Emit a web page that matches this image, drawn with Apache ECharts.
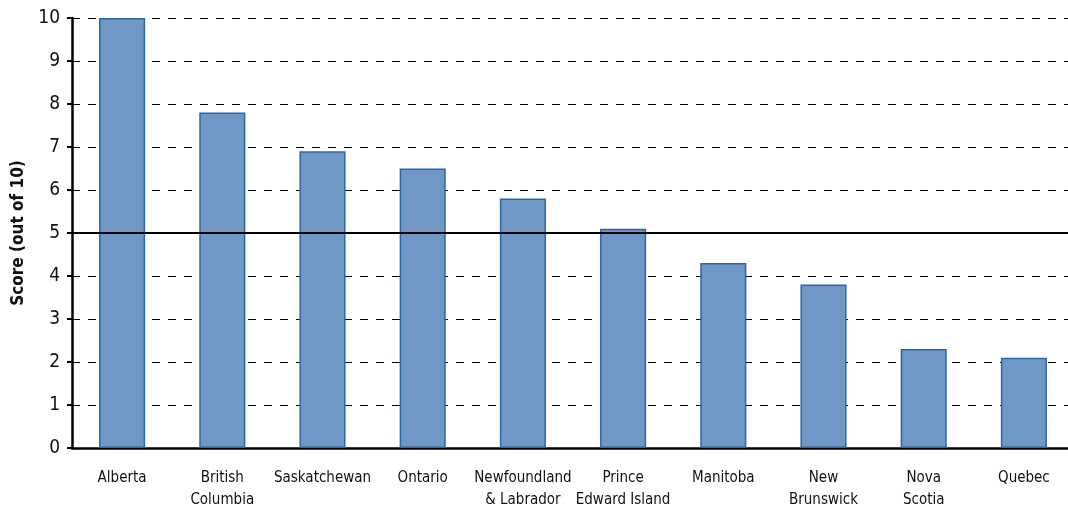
<!DOCTYPE html>
<html>
<head>
<meta charset="utf-8">
<script src="https://cdn.jsdelivr.net/npm/echarts@6/dist/echarts.min.js"></script>
<style>
  html, body { margin: 0; padding: 0; background: #fff; }
  #chart { width: 1068px; height: 508px; }
</style>
</head>
<body>
<div id="chart"></div>
<script>
// Provinces, ranked by score
const provinces = [
  'Alberta', 'British\nColumbia', 'Saskatchewan', 'Ontario', 'Newfoundland\n& Labrador',
  'Prince\nEdward Island', 'Manitoba', 'New\nBrunswick', 'Nova\nScotia', 'Quebec'
];
const scores = [10, 7.8, 6.9, 6.5, 5.8, 5.1, 4.3, 3.8, 2.3, 2.1];
const yTicks = [0, 1, 2, 3, 4, 5, 6, 7, 8, 9, 10];
const midline = 5;

const font = '"DejaVu Sans Condensed", "Liberation Sans Narrow", "Liberation Sans", sans-serif';

const chart = echarts.init(document.getElementById('chart'));
chart.setOption({
  animation: false,
  grid: { left: 72, right: -6, top: 18, bottom: 60, outerBoundsMode: 'none' },
  xAxis: {
    type: 'category',
    data: provinces,
    axisLine: { lineStyle: { color: '#000', width: 2.5 } },
    axisTick: { show: false },
    axisLabel: { color: '#111', fontFamily: font, fontSize: 15, lineHeight: 22, margin: 19, interval: 0 }
  },
  yAxis: {
    type: 'value',
    min: yTicks[0],
    max: yTicks[yTicks.length - 1],
    interval: 1,
    name: 'Score (out of 10)',
    nameLocation: 'middle',
    nameGap: 43,
    nameTextStyle: { color: '#111', fontFamily: font, fontSize: 17, fontWeight: 'bold' },
    axisLine: { show: true, lineStyle: { color: '#000', width: 2.5 } },
    axisTick: { show: true, length: 5, lineStyle: { color: '#000', width: 2 } },
    axisLabel: { color: '#111', fontFamily: font, fontSize: 19, margin: 12 },
    splitLine: { show: true, lineStyle: { color: '#000', width: 1, type: [8, 8] } }
  },
  series: [{
    type: 'bar',
    data: scores,
    barWidth: '46%',
    itemStyle: { color: '#6f98c7', borderColor: '#2c66a6', borderWidth: 1.5 },
    markLine: {
      silent: true,
      symbol: 'none',
      label: { show: false },
      lineStyle: { color: '#000', width: 2, type: 'solid' },
      data: [{ yAxis: midline }]
    },
    z: 3
  }]
});
</script>
</body>
</html>
